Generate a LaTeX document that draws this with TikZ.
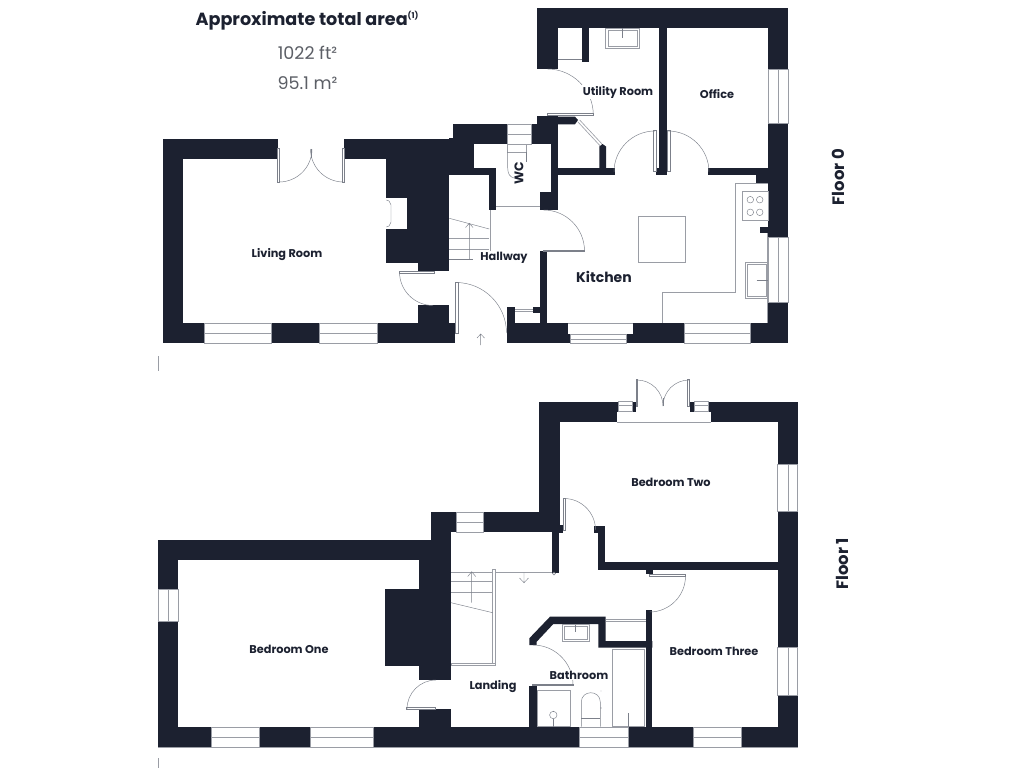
\documentclass[tikz,border=0pt]{standalone}
\usepackage{fontspec}
\setmainfont{Poppins}
\definecolor{wallc}{HTML}{1C2130}
\definecolor{linec}{HTML}{7C808A}
\definecolor{softc}{HTML}{9A9DA5}
\definecolor{greyt}{HTML}{5C5F66}
\tikzset{
  wallfill/.style={fill=wallc,draw=none},
  thinl/.style={draw=linec,line width=0.45pt},
  softl/.style={draw=softc,line width=0.9pt},
  winbox/.style={fill=white,draw=softc,line width=0.6pt},
  leafbox/.style={fill=white,draw=linec,line width=0.45pt},
  roomlbl/.style={font=\bfseries\fontsize{11.3}{14}\selectfont,text=wallc,fill=white,inner sep=1pt},
  floorlbl/.style={font=\bfseries\fontsize{16.5}{18}\selectfont,text=wallc,rotate=90,inner sep=0pt},
}
\newcommand{\W}[4]{\fill[wallfill] (#1,#2) rectangle (#3,#4);}
\newcommand{\Wh}[4]{\fill[white] (#1,#2) rectangle (#3,#4);}
\newcommand{\WinH}[5]{\filldraw[winbox] (#1,#2) rectangle (#3,#4); \draw[softl,line width=0.6pt] (#1,#5) -- (#3,#5);}
\newcommand{\WinV}[5]{\filldraw[winbox] (#1,#2) rectangle (#3,#4); \draw[softl,line width=0.6pt] (#5,#2) -- (#5,#4);}
\newcommand{\Leaf}[4]{\filldraw[leafbox] (#1,#2) rectangle (#3,#4);}
\newcommand{\Darc}[5]{\draw[thinl] ({#1+#3*cos(#4)},{#2+#3*sin(#4)}) arc[start angle=#4,end angle=#5,radius=#3];}
\begin{document}
\begin{tikzpicture}[x=1pt,y=-1pt]
\useasboundingbox (0,0) rectangle (1024,768);
\fill[white] (0,0) rectangle (1024,768);

% ===== Floor 0 walls =====
\W{163}{138.5}{278}{158.7}
\W{163}{138.5}{183}{343.3}
\W{163}{323}{455}{343.3}
\W{344}{138.5}{473.5}{158.7}
\W{386.3}{138.5}{449}{263.3}
\W{418}{263}{449}{270.7}
\W{418}{304.7}{449}{323.5}
\W{449}{138}{473.5}{175}
\W{453}{124}{507.7}{144}
\W{531.7}{124}{558}{144}
\W{537.3}{115.7}{558}{144}
\W{473}{167.7}{496.3}{175}
\W{489}{167.7}{496.3}{210}
\W{550.7}{143}{558}{192}
\W{540}{191.7}{557.7}{210}
\W{540}{251}{546.7}{323.5}
\W{558}{167.7}{615}{175}
\fill[wallfill] (558,116.7) -- (575,116.7) -- (578,120) -- (575,124.3) -- (558,124.3) -- cycle;
\fill[wallfill] (599.3,146.5) -- (602.5,144) -- (606,146.5) -- (606,168) -- (599.3,168) -- cycle;
\W{537.3}{7.7}{788.3}{28}
\W{537.3}{7.7}{558}{69}
\W{582}{28}{589}{62.3}
\W{768.3}{7.7}{788.3}{343.3}
\W{659.3}{28}{666.7}{175}
\W{656}{167.7}{666.7}{175}
\W{708.3}{167.7}{768.3}{175}
\W{756}{175}{768.3}{183.3}
\W{760}{226.7}{768.3}{233.3}
\W{506.7}{323.3}{633.3}{343.3}
\W{633}{323.3}{684}{343.3}
\W{750.3}{323.3}{768.5}{343.3}
\W{506.7}{306.7}{515}{323.5}
\W{533.3}{306.7}{540}{313.3}
\Wh{568.3}{323.3}{633.3}{334.3}
\Wh{570.3}{334}{626.3}{343.4}
\Wh{386.3}{198}{407}{229}

% Floor 0 windows
\WinH{204.7}{323}{271.7}{343.3}{333}
\WinH{319.3}{323}{377.3}{343.3}{333}
\WinH{507.7}{124}{531.7}{144}{134}
\WinH{684}{323.3}{750.3}{343.3}{333.3}
\WinH{570.3}{334.3}{626.3}{343.3}{339.3}
\WinV{768.3}{69}{788.3}{123.3}{778.7}
\WinV{768.3}{237.3}{788.3}{302.3}{778.7}
\draw[softl,line width=0.6pt] (568.3,323.3) -- (633.3,323.3);

% Floor 0 fittings
\draw[thinl] (386.3,200) -- (389,201) -- (391,205) -- (391,222) -- (389,226) -- (386.3,227);
\draw[thinl] (558,59) -- (582,59);
\filldraw[softl,fill=white,line width=0.6pt] (605.7,28) rectangle (639.3,48.3);
\draw[softl,line width=0.5pt] (608,30) rectangle (637,46);
\draw[thinl] (622.5,28) -- (622.5,38);
\draw[softl,line width=0.6pt] (507.7,144) rectangle (526.7,152);
\draw[thinl] (507.7,152) -- (507.7,168) .. controls (507.7,174) and (510,177) .. (514,178);
\draw[thinl] (526.7,152) -- (526.7,162);
\draw[softl,line width=0.6pt] (577.7,121.7) -- (600,145.7);
\draw[softl,line width=0.6pt] (579.7,120) -- (602,144);
\draw[softl,line width=0.6pt] (496.3,206.7) -- (540,206.7);
\draw[softl,line width=0.6pt] (515,309) -- (533.3,309);
\draw[softl,line width=0.6pt] (515,311.5) -- (533.3,311.5);
% stairs floor 0
\draw[softl,line width=0.7pt] (490.5,210) -- (490.5,253);
\draw[thinl] (449.3,218.3) -- (489.3,229);
\draw[thinl,draw=softc] (449.3,238.3) -- (489.3,238.3) (449.3,249) -- (489.3,249);
\draw[thinl] (449.3,259.3) -- (472.7,259.3);
\draw[thinl] (469.3,259.3) -- (469.3,223.3) (465.5,227.5) -- (469.3,223.3) -- (473,227.5);
% kitchen
\draw[softl,line width=0.7pt] (735.7,183.3) -- (768,183.3);
\draw[softl,line width=0.7pt] (735.7,183.3) -- (735.7,292.3) -- (662.3,292.3) -- (662.3,322.7);
\draw[softl,line width=0.7pt] (767.8,233) -- (767.8,323);
\draw[softl,line width=0.7pt] (742.3,191.7) rectangle (768,220.7);
\foreach \hx/\hy in {750.3/199.7,759.7/199.7,750.3/212.3,759.7/212.3} {\draw[thinl] (\hx,\hy) circle[radius=3.3];}
\draw[softl] (638.3,216.3) rectangle (685.3,262);
\draw[softl] (745.7,262.3) rectangle (767.7,298.3);
\draw[softl,line width=0.4pt] (747.5,264) rectangle (766.5,296.5);
\draw[thinl] (756.7,280) -- (767.7,280);
% Floor 0 doors
\Leaf{277.7}{148}{279.3}{182.3}
\Leaf{342.3}{148}{344.3}{182.3}
\Darc{279}{149}{33}{90}{0}
\Darc{343.5}{149}{33}{90}{180}
\draw[thinl] (311,149) -- (311,158);
\Leaf{399.3}{271}{434}{273}
\Darc{433}{272}{33.5}{180}{90}
\Leaf{455.7}{282.3}{458}{333.3}
\Darc{456}{333}{50.5}{270}{360}
\Leaf{543.3}{250}{584.3}{251.5}
\Darc{543.5}{251}{41}{0}{-90}
\Leaf{547.3}{113.5}{593.3}{115.5}
\Darc{547.3}{115}{46}{-90}{0}
\Leaf{653.3}{130.7}{656}{171.7}
\Darc{655}{172}{41}{-90}{-180}
\Leaf{667.7}{130.7}{670}{171.7}
\Darc{668}{172}{41}{-90}{0}
\draw[thinl] (480.7,345) -- (480.7,334) (477,338) -- (480.7,334) -- (484.5,338);
% ticks
\draw[softc,line width=0.4pt] (158.5,356) -- (158.5,371);
\draw[softc,line width=0.4pt] (158.5,758) -- (158.5,768);

% ===== Floor 1 walls =====
\W{158}{540}{431.5}{560.3}
\W{158}{540}{178.3}{747}
\W{158}{727}{797.7}{747}
\W{419.3}{540}{451}{680}
\W{384.7}{589}{420}{666.3}
\W{431}{512.3}{451}{541}
\W{419.3}{709}{451}{727.5}
\W{431}{512.3}{559}{532.3}
\W{539.3}{401.7}{559.7}{532.3}
\W{539.3}{401.7}{797.7}{422.3}
\W{777.7}{401.7}{797.7}{747}
\W{552.3}{532}{559.3}{572.7}
\W{554}{525.3}{563.3}{532.7}
\W{594.3}{526}{605.3}{532.7}
\W{598.3}{526}{605.3}{569.7}
\W{598.3}{562.3}{778}{569.7}
\W{645.7}{569}{652.7}{574.3}
\W{645.7}{610.3}{652.3}{727.5}
\fill[wallfill] (529.3,638.3) -- (550,616.7) -- (605.7,616.7) -- (605.7,641) -- (652.3,641) -- (652.3,647.7) -- (598.3,647.7) -- (598.3,624) -- (553.3,624) -- (536.7,641.7) -- (536.7,645) -- (529.3,645) -- cycle;
\W{529.3}{686}{536.7}{727.5}
% cut outs and windows
\Wh{617}{411.7}{711}{422.4}
\Wh{636}{401}{690}{412}
\draw[softl,line width=0.8pt] (617,422.3) -- (711,422.3);
\WinH{618.7}{401.7}{632.3}{411.7}{405.7}
\WinH{694}{401.7}{708.7}{411.7}{405.7}
\WinH{456.7}{512.3}{483.3}{532.3}{522.3}
\WinV{777.7}{464}{797.7}{511.7}{788.3}
\WinV{777.7}{647}{797.7}{695}{788.3}
\WinV{158}{589}{178.3}{621.7}{168.3}
\WinH{211.7}{727}{259.3}{747}{737.3}
\WinH{310}{727}{373.3}{747}{737.3}
\WinH{579.3}{727}{628.3}{747}{737.3}
\WinH{693.7}{727}{741}{747}{737.3}
\draw[softc,line width=0.6pt] (158,747.2) -- (797.7,747.2);
% french doors bedroom two
\Leaf{636}{379.3}{637.7}{406}
\Leaf{687.7}{379.3}{689.7}{406}
\Darc{637}{406}{26}{-90}{0}
\Darc{689}{406}{26}{-90}{-180}
\draw[thinl] (663,398) -- (663,406);
% other doors
\Leaf{563.3}{498.3}{565.3}{530}
\Darc{564}{530}{31.5}{-90}{0}
\Leaf{649.3}{574.3}{685}{576.5}
\Darc{649.5}{576}{36}{0}{90}
\Leaf{532.7}{684}{573.3}{685.7}
\Darc{533}{685}{40}{-90}{0}
\Leaf{406}{707}{435.7}{709}
\Darc{436}{709}{29}{180}{270}
% stairs floor 1
\draw[softl,line width=0.7pt] (451,572.7) -- (552,572.7);
\filldraw[softl,fill=white,line width=0.6pt] (492.7,569.3) rectangle (495.3,665.7);
\filldraw[softl,fill=white,line width=0.6pt] (451,663.3) rectangle (495.3,665.7);
\draw[thinl,draw=softc] (451,581.7) -- (492.7,581.7) (451,592.7) -- (492.7,592.7);
\draw[thinl] (451,602.7) -- (492.7,612.7);
\draw[thinl] (471.7,602.7) -- (471.7,571.7) (467.7,576.5) -- (471.7,571.7) -- (475.7,576.5);
\draw[thinl] (524,572.7) -- (524,582.7) (519.5,578) -- (524,582.7) -- (528.5,578);
\draw[thinl] (554,573.5) circle[radius=1.5];
% closet
\draw[softl,line width=0.6pt] (605.7,619.7) -- (645.7,619.7) (605.7,621) -- (645.7,621);
% bathroom fittings
\filldraw[softl,fill=white,line width=0.8pt] (562.3,624.7) rectangle (589.3,641);
\draw[softl,line width=0.4pt] (564.5,626.5) rectangle (587,639);
\draw[thinl] (575.7,624.7) -- (575.7,632.3);
\draw[softl,line width=0.9pt] (537.7,690.7) rectangle (570,726.7);
\draw[thinl] (553.3,715) circle[radius=3.7];
\draw[thinl] (553.3,718.7) -- (553.3,726.7) (553.3,710.5) -- (553.3,711.3);
\draw[thinl] (581.3,726.7) -- (581.3,702) .. controls (581.3,696) and (586,692.7) .. (590.8,692.7) .. controls (595.6,692.7) and (600.3,696) .. (600.3,702) -- (600.3,726.7);
\draw[thinl] (581.3,718.3) -- (600.3,718.3);
\fill[linec] (601,691) circle[radius=0.4] (601,708) circle[radius=0.7];
\draw[softl,line width=0.9pt] (612.7,649.3) rectangle (644.7,726.7);
\draw[thinl] (628.3,713.3) -- (628.3,726.7);

% ===== Labels =====
\node[inner sep=0pt,font=\bfseries\fontsize{17.6}{20}\selectfont,text=wallc] (titletext) at (307,20.5) {Approximate total area\raisebox{7pt}{\fontsize{8}{9}\selectfont (1)}};
\node[inner sep=0pt,font=\fontsize{17.5}{19}\selectfont,text=greyt] (areaft) at (307.5,53) {1022 ft²};
\node[inner sep=0pt,font=\fontsize{17.5}{19}\selectfont,text=greyt] (aream) at (307.5,83) {95.1 m²};
\node[roomlbl,fill=none] (living) at (287,254.5) {Living Room};
\node[roomlbl] (hallway) at (504,258) {Hallway};
\node[roomlbl,fill=none,font=\bfseries\fontsize{14}{16}\selectfont] (kitchen) at (604,277) {Kitchen};
\node[roomlbl] (utility) at (618,92) {Utility Room};
\node[roomlbl,fill=none] (office) at (717,94) {Office};
\node[roomlbl,fill=none,rotate=90,inner sep=0pt,font=\bfseries\fontsize{12.5}{14}\selectfont] (wc) at (519,173) {WC};
\node[roomlbl,fill=none] (bedtwo) at (671,482) {Bedroom Two};
\node[roomlbl,fill=none] (bedone) at (289,649) {Bedroom One};
\node[roomlbl,fill=none] (bedthree) at (714,651) {Bedroom Three};
\node[roomlbl,fill=none] (landing) at (493,687) {Landing};
\node[roomlbl] (bathroom) at (579,675) {Bathroom};
\node[floorlbl] (floorzero) at (838,177) {Floor 0};
\node[floorlbl] (floorone) at (842,564) {Floor 1};
\end{tikzpicture}
\end{document}
